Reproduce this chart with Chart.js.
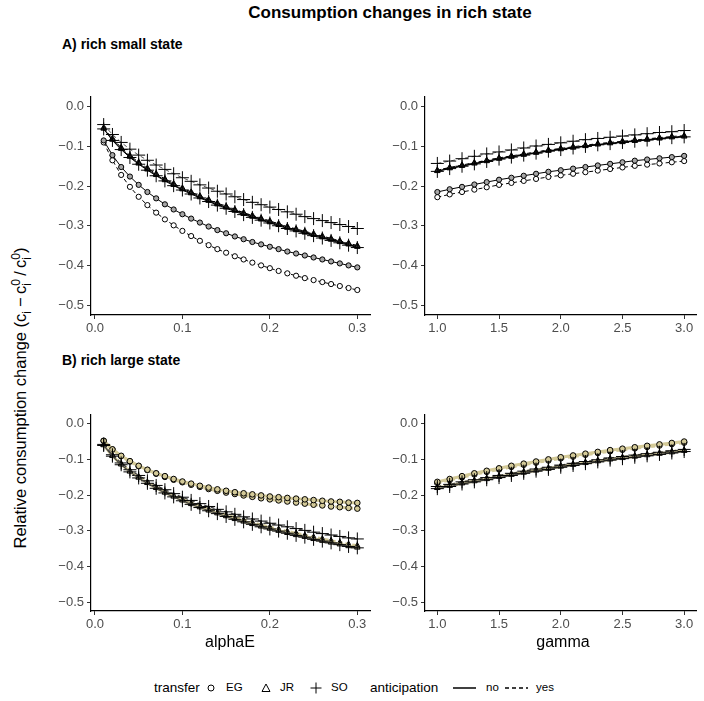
<!DOCTYPE html>
<html>
<head>
<meta charset="utf-8">
<script src="https://cdn.jsdelivr.net/npm/chart.js@4.4.1/dist/chart.umd.min.js"></script>
<style>
  body { margin: 0; background: #fff; font-family: "Liberation Sans", Arial, sans-serif; }
  #page { position: relative; width: 704px; height: 701px; overflow: hidden; }
  canvas { position: absolute; }
  #title { position: absolute; top: 3px; left: 390px; transform: translateX(-50%); font-weight: bold; font-size: 17px; white-space: nowrap; }
  .facet { position: absolute; left: 62px; font-weight: bold; font-size: 14px; white-space: nowrap; }
  .xtitle { position: absolute; top: 633px; transform: translateX(-50%); font-size: 16px; }
  #ytitle { position: absolute; left: 22px; top: 398px; transform: translate(-50%, -50%) rotate(-90deg); font-size: 16.5px; white-space: nowrap; }
  .st { display: inline-block; vertical-align: middle; font-size: 12px; line-height: 11px; text-align: left; }
  .st span { display: block; }
  .lg { position: absolute; top: 688px; transform: translateY(-50%); white-space: nowrap; line-height: 1; }
  .lt { font-size: 13.5px; }
  .lb { font-size: 11.5px; }
  .lg svg { display: block; }
</style>
</head>
<body>
<div id="page">
  <div id="title">Consumption changes in rich state</div>
  <div class="facet" style="top:36px">A) rich small state</div>
  <div class="facet" style="top:352px">B) rich large state</div>
  <canvas id="c1" width="327" height="253" style="left:51px;top:86px"></canvas>
  <canvas id="c2" width="319" height="253" style="left:385px;top:86px"></canvas>
  <canvas id="c3" width="327" height="231" style="left:51px;top:404px"></canvas>
  <canvas id="c4" width="319" height="231" style="left:385px;top:404px"></canvas>
  <div class="xtitle" style="left:230px">alphaE</div>
  <div class="xtitle" style="left:563px">gamma</div>
  <div id="ytitle">Relative consumption change (c<span class="st"><span>&nbsp;</span><span>i</span></span>&thinsp;&minus;&thinsp;c<span class="st"><span>0</span><span>i</span></span>&thinsp;/&thinsp;c<span class="st"><span>0</span><span>i</span></span>)</div>

  <span class="lg lt" style="left:154px">transfer</span>
  <svg class="lg" style="left:205px" width="12" height="12"><circle cx="6" cy="6" r="3" fill="#fff" stroke="#000" stroke-width="1"/></svg>
  <span class="lg lb" style="left:226px">EG</span>
  <svg class="lg" style="left:260px" width="12" height="12"><polygon points="6,2 10,9.5 2,9.5" fill="#fff" stroke="#000" stroke-width="1"/></svg>
  <span class="lg lb" style="left:280px">JR</span>
  <svg class="lg" style="left:310px" width="12" height="12"><path d="M6 0.5V11.5M0.5 6H11.5" stroke="#000" stroke-width="1"/></svg>
  <span class="lg lb" style="left:331px">SO</span>
  <span class="lg lt" style="left:370px">anticipation</span>
  <svg class="lg" style="left:453px" width="23" height="10"><path d="M0 5H23" stroke="#000" stroke-width="1.5"/></svg>
  <span class="lg lb" style="left:486px">no</span>
  <svg class="lg" style="left:505px" width="23" height="10"><path d="M0 5H23" stroke="#000" stroke-width="1.5" stroke-dasharray="4 3"/></svg>
  <span class="lg lb" style="left:536px">yes</span>
</div>
<script>
// x values
const alphaE = [0.01,0.02,0.03,0.04,0.05,0.06,0.07,0.08,0.09,0.10,0.11,0.12,0.13,0.14,0.15,
                0.16,0.17,0.18,0.19,0.20,0.21,0.22,0.23,0.24,0.25,0.26,0.27,0.28,0.29,0.30];
const gamma = [1.0,1.1,1.2,1.3,1.4,1.5,1.6,1.7,1.8,1.9,2.0,2.1,2.2,2.3,2.4,2.5,2.6,2.7,2.8,2.9,3.0];

// tick labels
const alphaTicks = [0, 0.1, 0.2, 0.3];
const gammaTicks = [1.0, 1.5, 2.0, 2.5, 3.0];
const yTicks = [0, -0.1, -0.2, -0.3, -0.4, -0.5];

// A) rich small state, alphaE
const smallAlphaEGNo  = [-0.085,-0.122,-0.152,-0.176,-0.197,-0.215,-0.231,-0.246,-0.259,-0.271,-0.282,-0.292,-0.302,-0.311,-0.319,-0.327,-0.334,-0.341,-0.347,-0.353,-0.359,-0.365,-0.370,-0.375,-0.380,-0.385,-0.390,-0.395,-0.400,-0.405];
const smallAlphaEGYes = [-0.090,-0.135,-0.172,-0.202,-0.227,-0.248,-0.267,-0.284,-0.299,-0.313,-0.326,-0.338,-0.349,-0.359,-0.368,-0.377,-0.385,-0.393,-0.400,-0.407,-0.414,-0.420,-0.426,-0.432,-0.437,-0.442,-0.447,-0.452,-0.457,-0.462];
const smallAlphaJRNo  = [-0.055,-0.083,-0.106,-0.126,-0.143,-0.158,-0.172,-0.185,-0.197,-0.208,-0.218,-0.228,-0.237,-0.246,-0.254,-0.262,-0.270,-0.277,-0.284,-0.291,-0.298,-0.305,-0.311,-0.317,-0.323,-0.329,-0.335,-0.341,-0.347,-0.353];
const smallAlphaJRYes = [-0.053,-0.080,-0.103,-0.123,-0.140,-0.155,-0.169,-0.182,-0.194,-0.205,-0.215,-0.225,-0.234,-0.243,-0.251,-0.259,-0.267,-0.274,-0.281,-0.288,-0.295,-0.302,-0.308,-0.314,-0.320,-0.326,-0.332,-0.338,-0.344,-0.350];
const smallAlphaSONo  = [-0.056,-0.085,-0.108,-0.128,-0.145,-0.160,-0.174,-0.187,-0.199,-0.210,-0.220,-0.230,-0.239,-0.248,-0.256,-0.264,-0.272,-0.279,-0.286,-0.293,-0.300,-0.307,-0.313,-0.319,-0.325,-0.331,-0.337,-0.343,-0.349,-0.355];
const smallAlphaSOYes = [-0.045,-0.070,-0.090,-0.107,-0.122,-0.135,-0.147,-0.158,-0.169,-0.179,-0.188,-0.197,-0.205,-0.213,-0.220,-0.227,-0.234,-0.241,-0.247,-0.253,-0.259,-0.265,-0.271,-0.277,-0.282,-0.287,-0.292,-0.297,-0.302,-0.307];

// A) rich small state, gamma
const smallGammaEGNo  = [-0.215,-0.208,-0.202,-0.196,-0.190,-0.184,-0.179,-0.174,-0.169,-0.164,-0.160,-0.156,-0.152,-0.148,-0.144,-0.140,-0.136,-0.133,-0.130,-0.127,-0.124];
const smallGammaEGYes = [-0.228,-0.221,-0.215,-0.209,-0.203,-0.197,-0.192,-0.187,-0.182,-0.177,-0.173,-0.169,-0.165,-0.161,-0.157,-0.153,-0.149,-0.146,-0.143,-0.140,-0.137];
const smallGammaJRNo  = [-0.162,-0.155,-0.149,-0.143,-0.137,-0.131,-0.126,-0.121,-0.116,-0.111,-0.107,-0.103,-0.099,-0.095,-0.092,-0.089,-0.086,-0.083,-0.080,-0.077,-0.075];
const smallGammaJRYes = [-0.160,-0.153,-0.147,-0.141,-0.135,-0.129,-0.124,-0.119,-0.114,-0.109,-0.105,-0.101,-0.097,-0.093,-0.090,-0.087,-0.084,-0.081,-0.078,-0.075,-0.073];
const smallGammaSONo  = [-0.163,-0.156,-0.150,-0.144,-0.138,-0.132,-0.127,-0.122,-0.117,-0.112,-0.108,-0.104,-0.100,-0.096,-0.093,-0.090,-0.087,-0.084,-0.081,-0.078,-0.076];
const smallGammaSOYes = [-0.143,-0.137,-0.131,-0.125,-0.119,-0.114,-0.109,-0.104,-0.099,-0.095,-0.091,-0.087,-0.083,-0.080,-0.077,-0.074,-0.071,-0.068,-0.065,-0.063,-0.060];

// B) rich large state, alphaE
const largeAlphaEGNo  = [-0.048,-0.072,-0.090,-0.105,-0.118,-0.129,-0.139,-0.147,-0.155,-0.162,-0.168,-0.174,-0.179,-0.184,-0.188,-0.192,-0.195,-0.198,-0.201,-0.204,-0.206,-0.208,-0.210,-0.212,-0.214,-0.216,-0.218,-0.219,-0.221,-0.222];
const largeAlphaEGYes = [-0.048,-0.072,-0.091,-0.106,-0.119,-0.130,-0.140,-0.149,-0.157,-0.164,-0.171,-0.177,-0.183,-0.188,-0.193,-0.197,-0.201,-0.205,-0.209,-0.212,-0.215,-0.218,-0.221,-0.224,-0.227,-0.229,-0.232,-0.234,-0.236,-0.238];
const largeAlphaJRNo  = [-0.060,-0.090,-0.114,-0.134,-0.151,-0.166,-0.180,-0.193,-0.204,-0.215,-0.225,-0.234,-0.243,-0.251,-0.259,-0.267,-0.274,-0.281,-0.288,-0.294,-0.300,-0.306,-0.312,-0.317,-0.323,-0.328,-0.333,-0.338,-0.343,-0.347];
const largeAlphaJRYes = [-0.059,-0.088,-0.112,-0.132,-0.149,-0.164,-0.178,-0.190,-0.201,-0.212,-0.222,-0.231,-0.240,-0.248,-0.256,-0.263,-0.270,-0.277,-0.284,-0.290,-0.296,-0.302,-0.307,-0.313,-0.318,-0.323,-0.328,-0.333,-0.338,-0.342];
const largeAlphaSONo  = [-0.061,-0.091,-0.115,-0.135,-0.152,-0.167,-0.181,-0.194,-0.205,-0.216,-0.226,-0.235,-0.244,-0.252,-0.260,-0.268,-0.275,-0.282,-0.289,-0.295,-0.301,-0.307,-0.313,-0.318,-0.324,-0.329,-0.334,-0.339,-0.344,-0.348];
const largeAlphaSOYes = [-0.058,-0.087,-0.110,-0.129,-0.145,-0.160,-0.173,-0.185,-0.196,-0.206,-0.215,-0.224,-0.232,-0.240,-0.247,-0.254,-0.261,-0.267,-0.273,-0.279,-0.284,-0.289,-0.294,-0.299,-0.304,-0.308,-0.312,-0.316,-0.320,-0.323];

// B) rich large state, gamma
const largeGammaEGNo  = [-0.163,-0.155,-0.147,-0.139,-0.132,-0.125,-0.118,-0.112,-0.106,-0.100,-0.094,-0.089,-0.084,-0.079,-0.074,-0.070,-0.066,-0.062,-0.058,-0.054,-0.050];
const largeGammaEGYes = [-0.166,-0.158,-0.150,-0.142,-0.135,-0.128,-0.121,-0.115,-0.109,-0.103,-0.097,-0.092,-0.087,-0.082,-0.077,-0.073,-0.069,-0.065,-0.061,-0.057,-0.053];
const largeGammaJRNo  = [-0.180,-0.174,-0.167,-0.161,-0.155,-0.149,-0.143,-0.137,-0.131,-0.126,-0.120,-0.115,-0.110,-0.105,-0.100,-0.096,-0.092,-0.088,-0.084,-0.080,-0.076];
const largeGammaJRYes = [-0.178,-0.172,-0.165,-0.159,-0.153,-0.147,-0.141,-0.135,-0.129,-0.124,-0.118,-0.113,-0.108,-0.103,-0.098,-0.094,-0.090,-0.086,-0.082,-0.078,-0.074];
const largeGammaSONo  = [-0.182,-0.176,-0.169,-0.163,-0.157,-0.151,-0.145,-0.139,-0.133,-0.128,-0.122,-0.117,-0.112,-0.107,-0.102,-0.098,-0.094,-0.090,-0.086,-0.082,-0.078];
const largeGammaSOYes = [-0.176,-0.170,-0.163,-0.157,-0.151,-0.145,-0.139,-0.133,-0.127,-0.122,-0.116,-0.111,-0.106,-0.101,-0.096,-0.092,-0.088,-0.084,-0.080,-0.076,-0.072];

const TAN = '#d4ca98';

function fmt(v) {
  const s = Math.abs(v).toFixed(1);
  return v < -1e-9 ? '\u2212' + s : s;
}

// one line+marker series
function series(xs, ys, shape, dashed, fill, lineColor, lineWidth, radius, order) {
  return {
    data: xs.map((x, i) => ({ x: x, y: ys[i] })),
    pointStyle: shape,
    borderDash: dashed ? [4, 3] : [],
    borderColor: lineColor,
    borderWidth: lineWidth,
    pointBorderColor: '#000',
    pointBackgroundColor: fill,
    pointRadius: radius,
    pointBorderWidth: 1,
    tension: 0,
    order: order
  };
}

function makePanel(id, datasets, xTicks, xMin, xMax, padRight) {
  const tickFont = { family: 'Liberation Sans, Arial, sans-serif', size: 13 };
  new Chart(document.getElementById(id), {
    type: 'line',
    data: { datasets: datasets },
    options: {
      responsive: false,
      animation: false,
      layout: { padding: { top: 8, right: padRight, left: 0, bottom: 0 } },
      plugins: { legend: { display: false }, tooltip: { enabled: false } },
      scales: {
        x: {
          type: 'linear', min: xMin, max: xMax, bounds: 'data',
          afterBuildTicks: s => { s.ticks = xTicks.map(v => ({ value: v })); },
          afterFit: s => { s.height = 24; },
          grid: { drawOnChartArea: false, drawTicks: true, tickLength: 4, color: '#333' },
          border: { display: true, color: '#000', width: 1.2 },
          ticks: { color: '#4d4d4d', font: tickFont, padding: 2, maxRotation: 0, callback: v => fmt(v) }
        },
        y: {
          type: 'linear', min: -0.525, max: 0.025, bounds: 'data',
          afterBuildTicks: s => { s.ticks = yTicks.map(v => ({ value: v })); },
          afterFit: s => { s.width = 40; },
          grid: { drawOnChartArea: false, drawTicks: true, tickLength: 4, color: '#333' },
          border: { display: true, color: '#000', width: 1.2 },
          ticks: { color: '#4d4d4d', font: tickFont, padding: 3, callback: v => fmt(v) }
        }
      }
    }
  });
}

// panel A: black lines, grey / white filled markers
function smallSet(xs, egNo, egYes, jrNo, jrYes, soNo, soYes) {
  return [
    series(xs, egNo,  'circle',   false, '#a6a6a6', '#000', 1, 2.6, 5),
    series(xs, egYes, 'circle',   true,  '#ffffff', '#000', 1, 2.6, 6),
    series(xs, jrNo,  'triangle', false, '#444',    '#000', 1, 3.2, 3),
    series(xs, jrYes, 'triangle', true,  '#bbb',    '#000', 1, 3.2, 4),
    series(xs, soNo,  'cross',    false, '#000',    '#000', 1, 6.5, 1),
    series(xs, soYes, 'cross',    true,  '#000',    '#555', 1, 6.5, 2)
  ];
}

// panel B: tan lines under the markers
function largeSet(xs, egNo, egYes, jrNo, jrYes, soNo, soYes) {
  return [
    series(xs, egNo,  'circle',   false, TAN, TAN,    3,   2.8, 5),
    series(xs, egYes, 'circle',   true,  TAN, TAN,    3,   2.8, 6),
    series(xs, jrNo,  'triangle', false, TAN, TAN,    3,   3.2, 3),
    series(xs, jrYes, 'triangle', true,  TAN, TAN,    3,   3.2, 4),
    series(xs, soNo,  'cross',    false, '#000', '#444', 1.2, 6.5, 1),
    series(xs, soYes, 'cross',    true,  '#000', '#444', 1.2, 6.5, 2)
  ];
}

makePanel('c1', smallSet(alphaE, smallAlphaEGNo, smallAlphaEGYes, smallAlphaJRNo, smallAlphaJRYes, smallAlphaSONo, smallAlphaSOYes), alphaTicks, -0.0045, 0.3145, 8);
makePanel('c2', smallSet(gamma, smallGammaEGNo, smallGammaEGYes, smallGammaJRNo, smallGammaJRYes, smallGammaSONo, smallGammaSOYes), gammaTicks, 0.9, 3.1, 3);
makePanel('c3', largeSet(alphaE, largeAlphaEGNo, largeAlphaEGYes, largeAlphaJRNo, largeAlphaJRYes, largeAlphaSONo, largeAlphaSOYes), alphaTicks, -0.0045, 0.3145, 8);
makePanel('c4', largeSet(gamma, largeGammaEGNo, largeGammaEGYes, largeGammaJRNo, largeGammaJRYes, largeGammaSONo, largeGammaSOYes), gammaTicks, 0.9, 3.1, 3);
</script>
</body>
</html>
